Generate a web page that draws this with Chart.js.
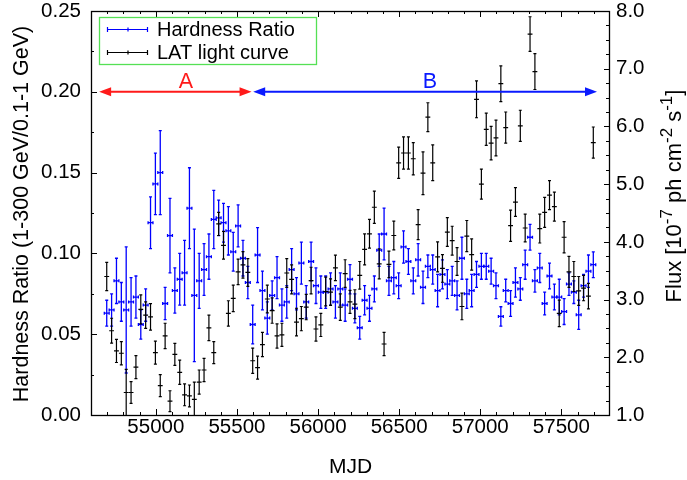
<!DOCTYPE html>
<html>
<head>
<meta charset="utf-8">
<style>
  html, body { margin: 0; padding: 0; background: #fff; }
  #wrap { width: 687px; height: 480px; }
</style>
<script src="https://cdn.jsdelivr.net/npm/chart.js@4.4.1/dist/chart.umd.min.js"></script>
</head>
<body>
<div id="wrap"><canvas id="hrChart" width="687" height="480"></canvas></div>
<script>
// Monthly bins (MJD bin centres)
const mjd = [
  54697, 54727, 54757, 54787, 54817, 54847, 54877, 54907, 54937, 54967,
  54997, 55027, 55057, 55087, 55117, 55147, 55177, 55207, 55237, 55267,
  55297, 55327, 55357, 55387, 55417, 55447, 55477, 55507, 55537, 55567,
  55597, 55627, 55657, 55687, 55717, 55747, 55777, 55807, 55837, 55867,
  55897, 55927, 55957, 55987, 56017, 56047, 56077, 56107, 56137, 56167,
  56197, 56227, 56257, 56287, 56317, 56347, 56377, 56407, 56437, 56467,
  56497, 56527, 56557, 56587, 56617, 56647, 56677, 56707, 56737, 56767,
  56797, 56827, 56857, 56887, 56917, 56947, 56977, 57007, 57037, 57067,
  57097, 57127, 57157, 57187, 57217, 57247, 57277, 57307, 57337, 57367,
  57397, 57427, 57457, 57487, 57517, 57547, 57577, 57607, 57637, 57667,
  57697
];
const binHalfWidth = 15; // days

// Hardness ratio (1-300 GeV / 0.1-1 GeV) and its error
const hardness = [
  0.063, 0.065, 0.083, 0.070, 0.065, 0.070, 0.073, 0.056, 0.068, 0.119,
  0.143, 0.150, 0.069, 0.111, 0.077, 0.084, 0.088, 0.128, 0.074, 0.083,
  0.090, 0.098, 0.121, 0.122, 0.119, 0.114, 0.101, 0.117, 0.097, 0.082,
  0.056, 0.099, 0.077, 0.060, 0.074, 0.085, 0.068, 0.070, 0.090, 0.075,
  0.094, 0.070, 0.095, 0.080, 0.076, 0.076, 0.078, 0.070, 0.078, 0.068,
  0.084, 0.066, 0.054, 0.071, 0.066, 0.078, 0.102, 0.112, 0.083, 0.085,
  0.080, 0.104, 0.095, 0.083, 0.096, 0.079, 0.092, 0.090, 0.077, 0.087,
  0.081, 0.083, 0.074, 0.097, 0.075, 0.077, 0.087, 0.092, 0.092, 0.089,
  0.080, 0.061, 0.077, 0.069, 0.082, 0.078, 0.093, 0.110, 0.083, 0.091,
  0.069, 0.086, 0.073, 0.073, 0.064, 0.081, 0.076, 0.062, 0.080, 0.089,
  0.093
];
const hardnessErr = [
  0.008, 0.010, 0.014, 0.012, 0.039, 0.015, 0.013, 0.009, 0.010, 0.016,
  0.019, 0.026, 0.010, 0.023, 0.014, 0.016, 0.020, 0.025, 0.041, 0.017,
  0.016, 0.014, 0.018, 0.011, 0.012, 0.015, 0.012, 0.013, 0.011, 0.010,
  0.012, 0.017, 0.012, 0.010, 0.009, 0.013, 0.010, 0.010, 0.013, 0.010,
  0.013, 0.010, 0.012, 0.011, 0.010, 0.010, 0.010, 0.010, 0.010, 0.010,
  0.009, 0.009, 0.007, 0.009, 0.008, 0.008, 0.010, 0.016, 0.009, 0.010,
  0.008, 0.010, 0.008, 0.008, 0.010, 0.010, 0.007, 0.009, 0.010, 0.009,
  0.009, 0.009, 0.009, 0.013, 0.009, 0.010, 0.008, 0.008, 0.008, 0.008,
  0.008, 0.006, 0.007, 0.008, 0.009, 0.007, 0.009, 0.008, 0.007, 0.009,
  0.007, 0.008, 0.008, 0.011, 0.008, 0.007, 0.007, 0.009, 0.007, 0.010,
  0.008
];

// LAT light curve, flux in 1e-7 ph cm^-2 s^-1, and its error
const flux = [
  3.40, 2.46, 2.11, 2.07, 1.39, 1.39, 1.83, 2.83, 2.73, 2.70,
  2.08, 1.51, 2.37, 1.24, 2.05, 1.74, 1.35, 1.33, 1.27, 1.57,
  1.78, 2.51, 2.08, 4.31, 3.94, 2.76, 3.02, 3.48, 3.60, 3.47,
  1.94, 1.82, 2.22, 3.01, 2.81, 2.37, 2.39, 3.46, 3.35, 2.61,
  2.67, 2.87, 3.33, 2.49, 2.56, 3.14, 3.13, 3.55, 2.87, 3.45,
  2.96, 2.92, 3.42, 3.87, 4.14, 4.60, 3.62, 2.23, 3.61, 4.11,
  5.37, 5.54, 5.54, 5.44, 4.30, 5.19, 6.16, 5.37, 3.74, 3.54,
  4.17, 4.02, 3.66, 2.88, 4.10, 3.78, 6.47, 5.00, 5.95, 5.71,
  5.80, 6.74, 5.98, 4.28, 4.69, 6.01, 4.24, 7.60, 6.95, 4.23,
  4.51, 4.81, 4.61, 2.76, 4.08, 3.48, 3.40, 3.15, 3.20, 3.06,
  5.72
];
const fluxErr = [
  0.245, 0.216, 0.20, 0.20, 0.40, 0.19, 0.20, 0.25, 0.23, 0.23,
  0.20, 0.19, 0.22, 0.18, 0.19, 0.21, 0.19, 0.19, 0.30, 0.21,
  0.20, 0.22, 0.19, 0.20, 0.24, 0.22, 0.23, 0.22, 0.23, 0.24,
  0.22, 0.20, 0.21, 0.24, 0.22, 0.21, 0.20, 0.25, 0.25, 0.24,
  0.21, 0.22, 0.23, 0.21, 0.20, 0.25, 0.23, 0.22, 0.23, 0.24,
  0.20, 0.25, 0.24, 0.27, 0.25, 0.28, 0.26, 0.20, 0.23, 0.25,
  0.27, 0.28, 0.28, 0.28, 0.26, 0.37, 0.25, 0.31, 0.26, 0.24,
  0.25, 0.25, 0.24, 0.23, 0.27, 0.27, 0.32, 0.26, 0.28, 0.29,
  0.31, 0.31, 0.27, 0.27, 0.25, 0.27, 0.24, 0.30, 0.31, 0.25,
  0.26, 0.25, 0.25, 0.23, 0.27, 0.27, 0.26, 0.25, 0.22, 0.22,
  0.27
];

// Axis ticks
const xTicks = [55000, 55500, 56000, 56500, 57000, 57500];
const hrTicks = [0, 0.05, 0.10, 0.15, 0.20, 0.25];
const fluxTicks = [1, 2, 3, 4, 5, 6, 7, 8];

// Period annotations (drawn at hardness = 0.20)
const periodLabels = ['A', 'B'];
const periodStart = [54650, 55600];
const periodEnd = [55590, 57720];
const periodLabelMjd = [55186, 56690];
const periodLevel = 0.20;

const FONT = '"Liberation Sans", Arial, Helvetica, sans-serif';
const HR_COLOR = '#0000ff';
const LC_COLOR = '#000000';
const PERIOD_COLORS = ['#ff1a1a', '#0a1aff'];
const TITLE_SIZE = 21.5;
const LEGEND_SIZE = 20;

// build point objects for the library
function points(xs, ys, errs) {
  return xs.map((x, i) => ({ x: x, y: ys[i], err: errs[i] }));
}

// draw "|-|" / "+" style error bars through the chart scales
const errorBarPlugin = {
  id: 'errorBars',
  afterDatasetsDraw(chart) {
    const ctx = chart.ctx;
    const xs = chart.scales.x;
    const area = chart.chartArea;
    ctx.save();
    ctx.beginPath();
    ctx.rect(area.left, area.top, area.right - area.left, area.bottom - area.top);
    ctx.clip();
    chart.data.datasets.forEach(ds => {
      const ys = chart.scales[ds.yAxisID];
      ctx.strokeStyle = ds.borderColor;
      ctx.lineWidth = ds.barWidth;
      ds.data.forEach(p => {
        const px = xs.getPixelForValue(p.x);
        const x0 = xs.getPixelForValue(p.x - binHalfWidth);
        const x1 = xs.getPixelForValue(p.x + binHalfWidth);
        const py = ys.getPixelForValue(p.y);
        const yt = ys.getPixelForValue(p.y + p.err);
        const yb = ys.getPixelForValue(p.y - p.err);
        ctx.beginPath();
        // vertical error bar + caps
        ctx.moveTo(px, yt); ctx.lineTo(px, yb);
        ctx.moveTo(px - 1.5, yt); ctx.lineTo(px + 1.5, yt);
        ctx.moveTo(px - 1.5, yb); ctx.lineTo(px + 1.5, yb);
        // horizontal bin width
        ctx.moveTo(x0, py); ctx.lineTo(x1, py);
        if (ds.binCaps) {
          ctx.moveTo(x0, py - 1.5); ctx.lineTo(x0, py + 1.5);
          ctx.moveTo(x1, py - 1.5); ctx.lineTo(x1, py + 1.5);
        }
        ctx.stroke();
      });
    });
    ctx.restore();
  }
};

// text with superscripts, parts = [[text, isSup], ...], centred at 0
function drawSupText(ctx, parts, size) {
  const supSize = Math.round(size * 0.75);
  let w = 0;
  parts.forEach(([t, sup]) => {
    ctx.font = (sup ? supSize : size) + 'px ' + FONT;
    w += ctx.measureText(t).width;
  });
  let x = -w / 2;
  parts.forEach(([t, sup]) => {
    ctx.font = (sup ? supSize : size) + 'px ' + FONT;
    ctx.fillText(t, x, sup ? -size * 0.42 : 0);
    x += ctx.measureText(t).width;
  });
}

function arrowHead(ctx, x, y, dir) {
  ctx.beginPath();
  ctx.moveTo(x, y);
  ctx.lineTo(x - dir * 12, y - 4.5);
  ctx.lineTo(x - dir * 12, y + 4.5);
  ctx.closePath();
  ctx.fill();
}

// frame, inward ticks, titles, legend and period arrows
const decorPlugin = {
  id: 'decor',
  afterDraw(chart) {
    const ctx = chart.ctx;
    const { left, right, top, bottom } = chart.chartArea;
    const xs = chart.scales.x, yl = chart.scales.y, yr = chart.scales.y1;
    ctx.save();

    // frame
    ctx.strokeStyle = '#000';
    ctx.lineWidth = 1.3;
    ctx.strokeRect(left + 0.5, top + 0.5, right - left - 1, bottom - top);

    // ticks
    ctx.lineWidth = 1;
    ctx.beginPath();
    for (let m = 54700; m < 57800; m += 100) {
      const len = m % 500 === 0 ? 6 : 3;
      const x = Math.round(xs.getPixelForValue(m)) + 0.5;
      ctx.moveTo(x, bottom); ctx.lineTo(x, bottom - len);
      ctx.moveTo(x, top); ctx.lineTo(x, top + len);
    }
    for (let k = 1; k < 10; k++) {
      const v = k * 0.025;
      const len = k % 2 === 0 ? 6 : 3;
      const y = Math.round(yl.getPixelForValue(v)) + 0.5;
      ctx.moveTo(left, y); ctx.lineTo(left + len, y);
    }
    for (let k = 1; k < 28; k++) {
      const v = 1 + k * 0.25;
      const len = k % 4 === 0 ? 6 : 4;
      const y = Math.round(yr.getPixelForValue(v)) + 0.5;
      ctx.moveTo(right, y); ctx.lineTo(right - len, y);
    }
    ctx.stroke();

    // axis titles
    ctx.fillStyle = '#000';
    ctx.textAlign = 'center';
    ctx.textBaseline = 'alphabetic';
    ctx.font = '21px ' + FONT;
    ctx.fillText('MJD', (left + right) / 2, 473);

    ctx.save();
    ctx.translate(28, 214);
    ctx.rotate(-Math.PI / 2);
    ctx.textAlign = 'center';
    ctx.font = TITLE_SIZE + 'px ' + FONT;
    ctx.fillText('Hardness Ratio (1-300 GeV/0.1-1 GeV)', 0, 0);
    ctx.restore();

    ctx.save();
    ctx.translate(681, 196);
    ctx.rotate(-Math.PI / 2);
    ctx.textAlign = 'left';
    drawSupText(ctx, [['Flux [10', false], ['-7', true], [' ph cm', false], ['-2', true], [' s', false], ['-1', true], [']', false]], 22);
    ctx.restore();

    // period arrows
    const ay = yl.getPixelForValue(periodLevel);
    periodLabels.forEach((lab, i) => {
      const xa = xs.getPixelForValue(periodStart[i]);
      const xb = xs.getPixelForValue(periodEnd[i]);
      ctx.strokeStyle = PERIOD_COLORS[i];
      ctx.fillStyle = PERIOD_COLORS[i];
      ctx.lineWidth = 2;
      ctx.beginPath();
      ctx.moveTo(xa + 6, ay); ctx.lineTo(xb - 6, ay);
      ctx.stroke();
      arrowHead(ctx, xa, ay, -1);
      arrowHead(ctx, xb, ay, 1);
      ctx.font = TITLE_SIZE + 'px ' + FONT;
      ctx.textAlign = 'center';
      ctx.fillText(lab, xs.getPixelForValue(periodLabelMjd[i]), yl.getPixelForValue(0.2025));
    });

    // legend
    ctx.fillStyle = '#fff';
    ctx.fillRect(99, 17, 217, 47);
    ctx.strokeStyle = '#55e055';
    ctx.lineWidth = 1.3;
    ctx.strokeRect(99.5, 17.5, 217, 47);
    const legend = [
      ['Hardness Ratio', HR_COLOR, 29.5, 36],
      ['LAT light curve', LC_COLOR, 52.5, 59]
    ];
    legend.forEach(([label, col, ly, by]) => {
      ctx.strokeStyle = col;
      ctx.lineWidth = 1.2;
      ctx.beginPath();
      ctx.moveTo(107, ly); ctx.lineTo(148, ly);
      ctx.moveTo(107.5, ly - 2.5); ctx.lineTo(107.5, ly + 2.5);
      ctx.moveTo(147.5, ly - 2.5); ctx.lineTo(147.5, ly + 2.5);
      ctx.moveTo(128, ly - 2); ctx.lineTo(128, ly + 2);
      ctx.stroke();
      ctx.fillStyle = '#000';
      ctx.font = LEGEND_SIZE + 'px ' + FONT;
      ctx.textAlign = 'left';
      ctx.fillText(label, 157, by);
    });

    ctx.restore();
  }
};

const tickFont = { family: FONT, size: 20.5 };

new Chart(document.getElementById('hrChart'), {
  type: 'scatter',
  data: {
    datasets: [
      {
        label: 'Hardness Ratio',
        data: points(mjd, hardness, hardnessErr),
        yAxisID: 'y',
        borderColor: HR_COLOR,
        backgroundColor: HR_COLOR,
        pointRadius: 0,
        barWidth: 1.3,
        binCaps: true
      },
      {
        label: 'LAT light curve',
        data: points(mjd, flux, fluxErr),
        yAxisID: 'y1',
        borderColor: LC_COLOR,
        backgroundColor: LC_COLOR,
        pointRadius: 0,
        barWidth: 1.2,
        binCaps: false
      }
    ]
  },
  options: {
    responsive: false,
    animation: false,
    events: [],
    layout: { padding: { top: 11, left: 0, right: 0, bottom: 0 } },
    plugins: { legend: { display: false }, tooltip: { enabled: false } },
    scales: {
      x: {
        type: 'linear', position: 'bottom', min: 54600, max: 57800,
        afterBuildTicks: s => { s.ticks = xTicks.map(v => ({ value: v })); },
        afterFit: s => { s.height = 65; s.paddingLeft = 0; s.paddingRight = 0; },
        grid: { display: false, drawTicks: false },
        border: { display: false },
        ticks: { font: tickFont, color: '#000', padding: 0, maxRotation: 0, autoSkip: false, callback: v => String(v) }
      },
      y: {
        type: 'linear', position: 'left', min: 0, max: 0.25,
        afterBuildTicks: s => { s.ticks = hrTicks.map(v => ({ value: v })); },
        afterFit: s => { s.width = 91; s.paddingTop = 0; s.paddingBottom = 0; },
        grid: { display: false, drawTicks: false },
        border: { display: false },
        ticks: { font: tickFont, color: '#000', padding: 10, callback: v => Number(v).toFixed(2) }
      },
      y1: {
        type: 'linear', position: 'right', min: 1, max: 8,
        afterBuildTicks: s => { s.ticks = fluxTicks.map(v => ({ value: v })); },
        afterFit: s => { s.width = 77; s.paddingTop = 0; s.paddingBottom = 0; },
        grid: { display: false, drawTicks: false },
        border: { display: false },
        ticks: { font: tickFont, color: '#000', padding: 6, callback: v => Number(v).toFixed(1) }
      }
    }
  },
  plugins: [errorBarPlugin, decorPlugin]
});
</script>
</body>
</html>
